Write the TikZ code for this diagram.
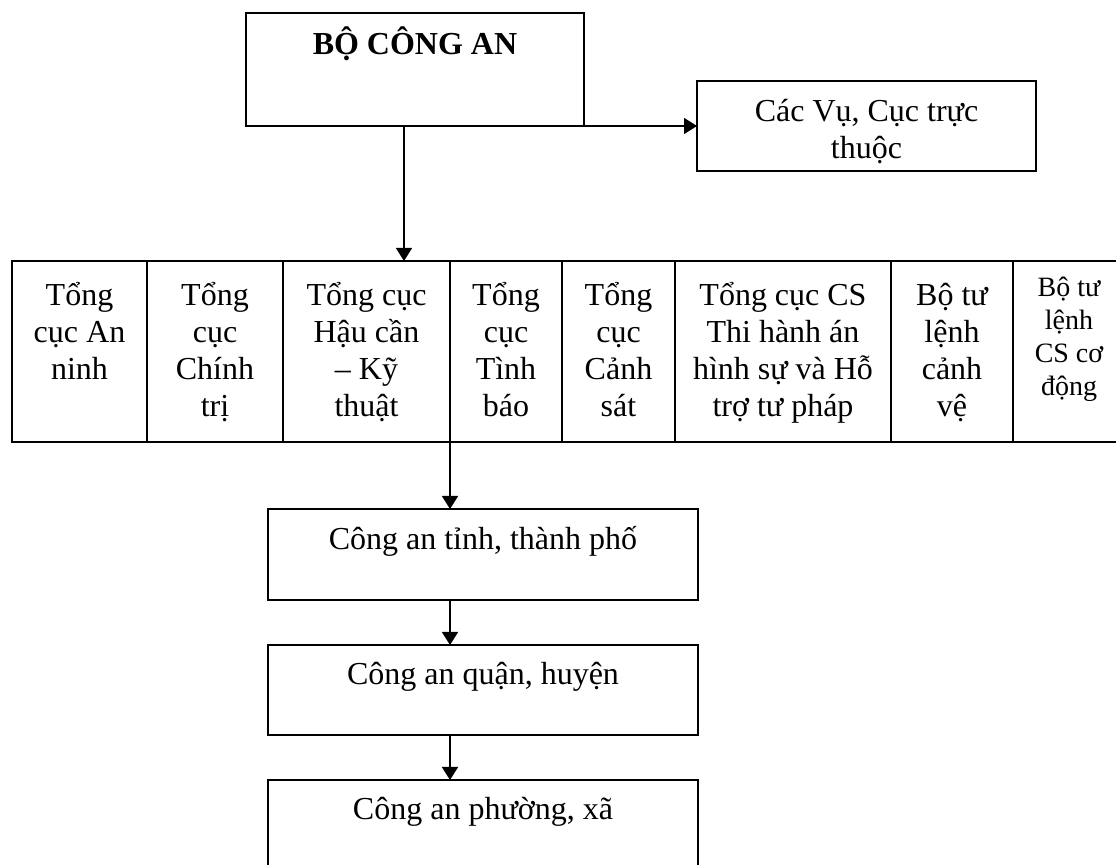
\documentclass[tikz,border=0pt]{standalone}
\usepackage{fontspec}
\setmainfont{Liberation Serif}
\usetikzlibrary{arrows.meta}

\tikzset{
  box/.style={draw, line width=0.8pt, inner sep=0pt, outer sep=0pt, align=flush center,
    font=\fontsize{16}{18.4}\selectfont},
  cell/.style={box, anchor=north west, text height=22.5pt, text depth=68pt},
  arr/.style={line width=0.8pt, -{Triangle[length=6.5pt,width=8pt]}},
}

\begin{document}
\begin{tikzpicture}[x=0.5pt,y=-0.5pt]
\useasboundingbox (0,0) rectangle (1116,865);
\clip (0,0) rectangle (1116,865);

% top level
\node[box, anchor=north west, text width=169pt, text height=21pt, text depth=35.5pt,
  font=\fontsize{16}{18.4}\selectfont\bfseries] (bo) at (246,13) {BỘ CÔNG AN};
\node[box, anchor=north west, text width=169.5pt, text height=20.5pt, text depth=24.5pt]
  (cacvu) at (697,81) {Các Vụ, Cục trực\\thuộc};

% row of general departments
\node[cell, text width=67.5pt] (c1) at (12,261) {Tổng\\cục An\\ninh};
\node[cell, text width=68pt] (c2) at (c1.north east) {Tổng\\cục\\Chính\\trị};
\node[cell, text width=83.5pt] (c3) at (c2.north east) {Tổng cục\\Hậu cần\\– Kỹ\\thuật};
\node[cell, text width=56pt] (c4) at (c3.north east) {Tổng\\cục\\Tình\\báo};
\node[cell, text width=56.5pt] (c5) at (c4.north east) {Tổng\\cục\\Cảnh\\sát};
\node[cell, text width=108pt] (c6) at (c5.north east) {Tổng cục CS\\Thi hành án\\hình sự và Hỗ\\trợ tư pháp};
\node[cell, text width=61pt] (c7) at (c6.north east) {Bộ tư\\lệnh\\cảnh\\vệ};
\node[cell, text width=56pt, text height=18pt, text depth=72.5pt,
  font=\fontsize{14}{16.5}\selectfont] (c8) at (c7.north east) {Bộ tư\\lệnh\\CS cơ\\động};

% local levels
\node[box, anchor=north west, text width=215pt, text height=20.5pt, text depth=25pt]
  (tinh) at (268,509) {Công an tỉnh, thành phố};
\node[box, anchor=north west, text width=215pt, text height=20pt, text depth=25pt]
  (quan) at (268,645) {Công an quận, huyện};
\node[box, anchor=north west, text width=215pt, text height=20pt, text depth=25pt]
  (phuong) at (268,780) {Công an phường, xã};

% connectors
\draw[arr] (bo.south east) -- (bo.south east -| cacvu.west);
\draw[arr] ([xshift=-5.5pt]bo.south) -- ([xshift=-5.5pt]bo.south |- c3.north);
\draw[arr] (c3.south east) -- (c3.south east |- tinh.north);
\draw[arr] (tinh.south -| c3.south east) -- (quan.north -| c3.south east);
\draw[arr] (quan.south -| c3.south east) -- (phuong.north -| c3.south east);

\end{tikzpicture}
\end{document}
